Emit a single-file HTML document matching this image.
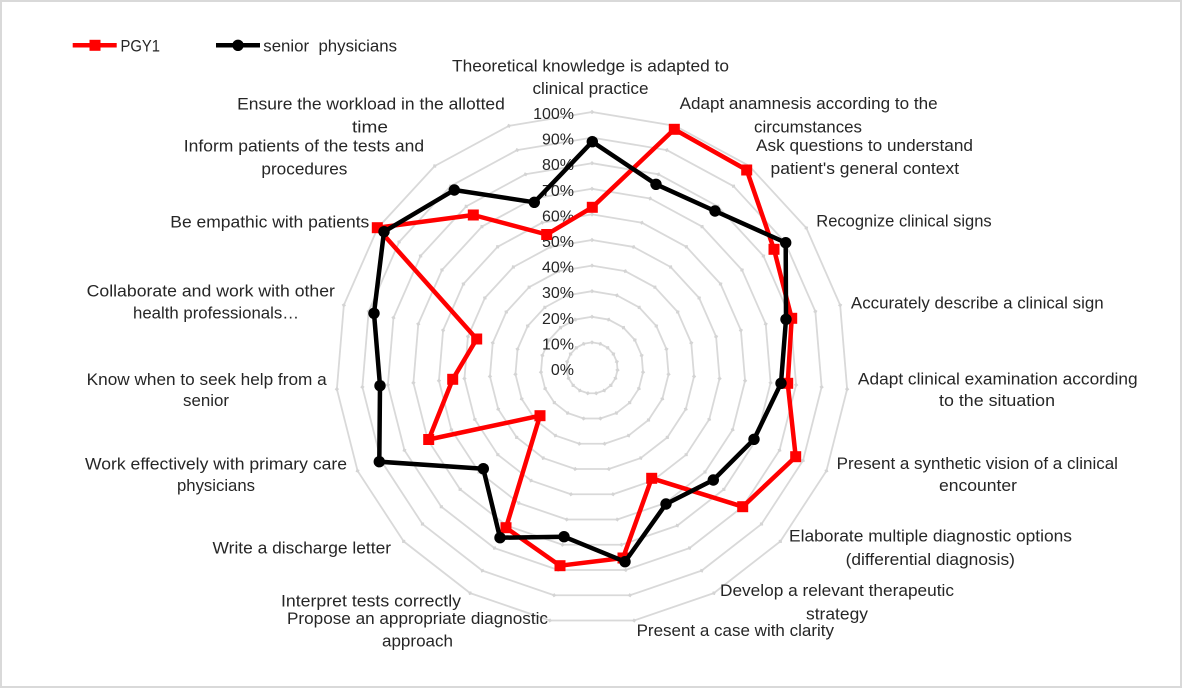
<!DOCTYPE html>
<html>
<head>
<meta charset="utf-8">
<style>
html,body{margin:0;padding:0;background:#fff;}
svg{display:block;}
text{font-family:"Liberation Sans",Arial,sans-serif;fill:#262626;}
</style>
</head>
<body>
<svg width="1185" height="689" viewBox="0 0 1185 689" xmlns="http://www.w3.org/2000/svg" xmlns:xlink="http://www.w3.org/1999/xlink">
<rect x="0" y="0" width="1185" height="689" fill="#fff"/>
<rect x="1" y="1" width="1180" height="686" fill="none" stroke="#d9d9d9" stroke-width="2"/>

<defs>
<g id="wedge" stroke="#d9d9d9" stroke-width="1.8" fill="none">
<line x1="592" y1="342.4" x2="600.31" y2="343.79"/>
<line x1="592" y1="316.8" x2="608.62" y2="319.57"/>
<line x1="592" y1="291.2" x2="616.94" y2="295.36"/>
<line x1="592" y1="265.6" x2="625.25" y2="271.15"/>
<line x1="592" y1="240" x2="633.56" y2="246.94"/>
<line x1="592" y1="214.4" x2="641.87" y2="222.72"/>
<line x1="592" y1="188.8" x2="650.19" y2="198.51"/>
<line x1="592" y1="163.2" x2="658.50" y2="174.30"/>
<line x1="592" y1="137.6" x2="666.81" y2="150.08"/>
<line x1="592" y1="112" x2="675.12" y2="125.87"/>
<g fill="#d4d4d4" stroke="none">
<path d="M592,340.2l2.2,2.2l-2.2,2.2l-2.2,-2.2z"/>
<path d="M592,314.6l2.2,2.2l-2.2,2.2l-2.2,-2.2z"/>
<path d="M592,289l2.2,2.2l-2.2,2.2l-2.2,-2.2z"/>
<path d="M592,263.4l2.2,2.2l-2.2,2.2l-2.2,-2.2z"/>
<path d="M592,237.8l2.2,2.2l-2.2,2.2l-2.2,-2.2z"/>
<path d="M592,212.2l2.2,2.2l-2.2,2.2l-2.2,-2.2z"/>
<path d="M592,186.6l2.2,2.2l-2.2,2.2l-2.2,-2.2z"/>
<path d="M592,161l2.2,2.2l-2.2,2.2l-2.2,-2.2z"/>
<path d="M592,135.4l2.2,2.2l-2.2,2.2l-2.2,-2.2z"/>
<path d="M592,109.8l2.2,2.2l-2.2,2.2l-2.2,-2.2z"/>
</g>
</g>
</defs>

<use xlink:href="#wedge" href="#wedge" transform="rotate(0 592 368)"/>
<use xlink:href="#wedge" href="#wedge" transform="rotate(18.9474 592 368)"/>
<use xlink:href="#wedge" href="#wedge" transform="rotate(37.8947 592 368)"/>
<use xlink:href="#wedge" href="#wedge" transform="rotate(56.8421 592 368)"/>
<use xlink:href="#wedge" href="#wedge" transform="rotate(75.7895 592 368)"/>
<use xlink:href="#wedge" href="#wedge" transform="rotate(94.7368 592 368)"/>
<use xlink:href="#wedge" href="#wedge" transform="rotate(113.6842 592 368)"/>
<use xlink:href="#wedge" href="#wedge" transform="rotate(132.6316 592 368)"/>
<use xlink:href="#wedge" href="#wedge" transform="rotate(151.5789 592 368)"/>
<use xlink:href="#wedge" href="#wedge" transform="rotate(170.5263 592 368)"/>
<use xlink:href="#wedge" href="#wedge" transform="rotate(189.4737 592 368)"/>
<use xlink:href="#wedge" href="#wedge" transform="rotate(208.4211 592 368)"/>
<use xlink:href="#wedge" href="#wedge" transform="rotate(227.3684 592 368)"/>
<use xlink:href="#wedge" href="#wedge" transform="rotate(246.3158 592 368)"/>
<use xlink:href="#wedge" href="#wedge" transform="rotate(265.2632 592 368)"/>
<use xlink:href="#wedge" href="#wedge" transform="rotate(284.2105 592 368)"/>
<use xlink:href="#wedge" href="#wedge" transform="rotate(303.1579 592 368)"/>
<use xlink:href="#wedge" href="#wedge" transform="rotate(322.1053 592 368)"/>
<use xlink:href="#wedge" href="#wedge" transform="rotate(341.0526 592 368)"/>

<!-- tick labels -->
<g font-size="16" text-anchor="end">
<text x="574" y="375">0%</text>
<text x="574" y="349.4">10%</text>
<text x="574" y="323.8">20%</text>
<text x="574" y="298.2">30%</text>
<text x="574" y="272.6">40%</text>
<text x="574" y="247">50%</text>
<text x="574" y="221.4">60%</text>
<text x="574" y="195.8">70%</text>
<text x="574" y="170.2">80%</text>
<text x="574" y="144.6">90%</text>
<text x="574" y="119">100%</text>
</g>

<!-- PGY1 series -->
<polygon fill="none" stroke="#ff0000" stroke-width="4.5" stroke-linejoin="round"
points="592.3,207.3 674.3,129.3 746.7,170 774,249.3 791.7,318.3 787.7,383.3 795.7,456.7 742.7,506.7 651.7,478.3 623,558 560,565.7 506,527.7 540,415.7 428.7,439.5 452.7,379.3 476.7,339 377.3,227.7 473.3,215 546.7,234.5"/>
<g fill="#ff0000">
<rect x="586.8" y="201.8" width="11" height="11"/>
<rect x="668.8" y="123.8" width="11" height="11"/>
<rect x="741.2" y="164.5" width="11" height="11"/>
<rect x="768.5" y="243.8" width="11" height="11"/>
<rect x="786.2" y="312.8" width="11" height="11"/>
<rect x="782.2" y="377.8" width="11" height="11"/>
<rect x="790.2" y="451.2" width="11" height="11"/>
<rect x="737.2" y="501.2" width="11" height="11"/>
<rect x="646.2" y="472.8" width="11" height="11"/>
<rect x="617.5" y="552.5" width="11" height="11"/>
<rect x="554.5" y="560.2" width="11" height="11"/>
<rect x="500.5" y="522.2" width="11" height="11"/>
<rect x="534.5" y="410.2" width="11" height="11"/>
<rect x="423.2" y="434" width="11" height="11"/>
<rect x="447.2" y="373.8" width="11" height="11"/>
<rect x="471.2" y="333.5" width="11" height="11"/>
<rect x="371.8" y="222.2" width="11" height="11"/>
<rect x="467.8" y="209.5" width="11" height="11"/>
<rect x="541.2" y="229" width="11" height="11"/>
</g>

<!-- senior physicians series -->
<polygon fill="none" stroke="#000" stroke-width="4.5" stroke-linejoin="round"
points="592.3,141.7 656,184.3 715,211 785.7,242.7 786,319.3 781,383.3 754,439.3 713.3,480 666,504 625,561.7 564,536.7 500,537.7 483.3,468.7 379.3,461.7 380,385.7 374,313.3 384,231.7 454.3,190 534.3,202.3"/>
<g fill="#000">
<circle cx="592.3" cy="141.7" r="5.7"/>
<circle cx="656" cy="184.3" r="5.7"/>
<circle cx="715" cy="211" r="5.7"/>
<circle cx="785.7" cy="242.7" r="5.7"/>
<circle cx="786" cy="319.3" r="5.7"/>
<circle cx="781" cy="383.3" r="5.7"/>
<circle cx="754" cy="439.3" r="5.7"/>
<circle cx="713.3" cy="480" r="5.7"/>
<circle cx="666" cy="504" r="5.7"/>
<circle cx="625" cy="561.7" r="5.7"/>
<circle cx="564" cy="536.7" r="5.7"/>
<circle cx="500" cy="537.7" r="5.7"/>
<circle cx="483.3" cy="468.7" r="5.7"/>
<circle cx="379.3" cy="461.7" r="5.7"/>
<circle cx="380" cy="385.7" r="5.7"/>
<circle cx="374" cy="313.3" r="5.7"/>
<circle cx="384" cy="231.7" r="5.7"/>
<circle cx="454.3" cy="190" r="5.7"/>
<circle cx="534.3" cy="202.3" r="5.7"/>
</g>

<!-- category labels -->
<g font-size="16.5" text-anchor="middle">
<text x="590.5" y="71.5" textLength="277" lengthAdjust="spacingAndGlyphs">Theoretical knowledge is adapted to</text>
<text x="590.5" y="94" textLength="116" lengthAdjust="spacingAndGlyphs">clinical practice</text>
<text x="808.6" y="109" textLength="258" lengthAdjust="spacingAndGlyphs">Adapt anamnesis according to the</text>
<text x="808" y="132.3" textLength="108" lengthAdjust="spacingAndGlyphs">circumstances</text>
<text x="864.5" y="151" textLength="217" lengthAdjust="spacingAndGlyphs">Ask questions to understand</text>
<text x="864.8" y="174" textLength="188.5" lengthAdjust="spacingAndGlyphs">patient's general context</text>
<text x="904" y="226.7" textLength="175.4" lengthAdjust="spacingAndGlyphs">Recognize clinical signs</text>
<text x="977.3" y="308.3" textLength="252.7" lengthAdjust="spacingAndGlyphs">Accurately describe a clinical sign</text>
<text x="997.8" y="384.3" textLength="279.7" lengthAdjust="spacingAndGlyphs">Adapt clinical examination according</text>
<text x="997" y="406" textLength="116" lengthAdjust="spacingAndGlyphs">to the situation</text>
<text x="977.3" y="469" textLength="281.3" lengthAdjust="spacingAndGlyphs">Present a synthetic vision of a clinical</text>
<text x="978" y="491" textLength="78" lengthAdjust="spacingAndGlyphs">encounter</text>
<text x="930.5" y="541.7" textLength="283" lengthAdjust="spacingAndGlyphs">Elaborate multiple diagnostic options</text>
<text x="930.3" y="565" textLength="169.3" lengthAdjust="spacingAndGlyphs">(differential diagnosis)</text>
<text x="837" y="596" textLength="234" lengthAdjust="spacingAndGlyphs">Develop a relevant therapeutic</text>
<text x="837" y="619.5" textLength="62" lengthAdjust="spacingAndGlyphs">strategy</text>
<text x="735.3" y="636" textLength="197.4" lengthAdjust="spacingAndGlyphs">Present a case with clarity</text>
<text x="417.5" y="624" textLength="261" lengthAdjust="spacingAndGlyphs">Propose an appropriate diagnostic</text>
<text x="417.5" y="646.7" textLength="71" lengthAdjust="spacingAndGlyphs">approach</text>
<text x="371" y="606.7" textLength="180" lengthAdjust="spacingAndGlyphs">Interpret tests correctly</text>
<text x="301.8" y="553.3" textLength="178.5" lengthAdjust="spacingAndGlyphs">Write a discharge letter</text>
<text x="216" y="469.3" textLength="262" lengthAdjust="spacingAndGlyphs">Work effectively with primary care</text>
<text x="216" y="491" textLength="78" lengthAdjust="spacingAndGlyphs">physicians</text>
<text x="206.7" y="385" textLength="240" lengthAdjust="spacingAndGlyphs">Know when to seek help from a</text>
<text x="206" y="406" textLength="46" lengthAdjust="spacingAndGlyphs">senior</text>
<text x="210.8" y="296.7" textLength="248.3" lengthAdjust="spacingAndGlyphs">Collaborate and work with other</text>
<text x="216" y="318.3" textLength="166" lengthAdjust="spacingAndGlyphs">health professionals…</text>
<text x="269.8" y="227.7" textLength="199" lengthAdjust="spacingAndGlyphs">Be empathic with patients</text>
<text x="303.9" y="151.7" textLength="240.3" lengthAdjust="spacingAndGlyphs">Inform patients of the tests and</text>
<text x="304.4" y="174.3" textLength="86" lengthAdjust="spacingAndGlyphs">procedures</text>
<text x="371" y="109.3" textLength="267.7" lengthAdjust="spacingAndGlyphs">Ensure the workload in the allotted</text>
<text x="370" y="132.7" textLength="36" lengthAdjust="spacingAndGlyphs">time</text>
</g>

<!-- legend -->
<line x1="72.7" y1="45.3" x2="116.7" y2="45.3" stroke="#ff0000" stroke-width="4.5"/>
<rect x="89.5" y="39.8" width="11" height="11" fill="#ff0000"/>
<text x="120.5" y="51.5" font-size="16.5" textLength="39.5" lengthAdjust="spacingAndGlyphs">PGY1</text>
<line x1="216" y1="45.3" x2="260" y2="45.3" stroke="#000" stroke-width="4.5"/>
<circle cx="238" cy="45.3" r="5.7" fill="#000"/>
<text x="263.3" y="51.5" font-size="16.5" textLength="133.7" lengthAdjust="spacingAndGlyphs">senior&#160; physicians</text>
</svg>
</body>
</html>
